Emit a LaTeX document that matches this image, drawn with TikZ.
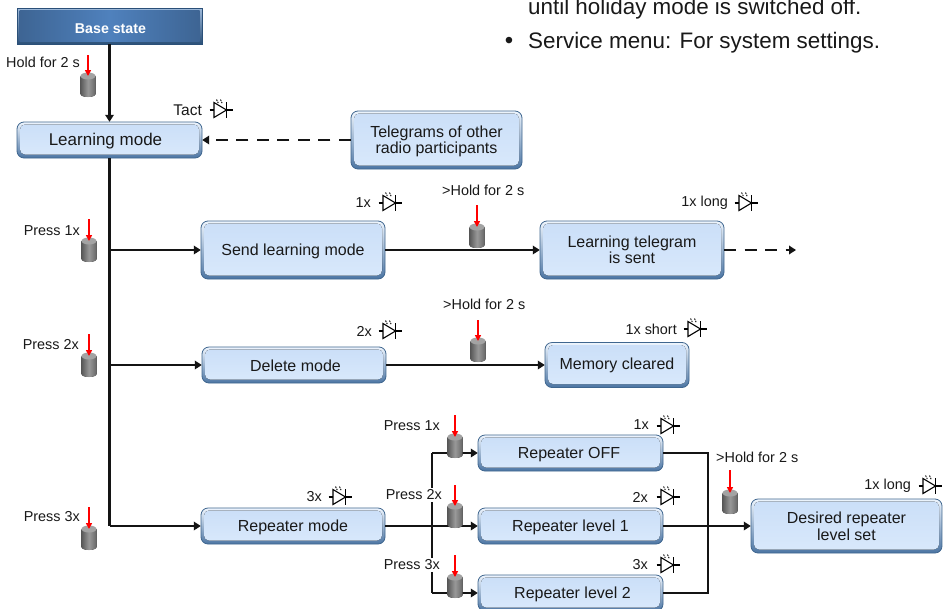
\documentclass[tikz,border=0pt]{standalone}
\usepackage{fontspec}
\setmainfont{Liberation Sans}
\usetikzlibrary{arrows.meta}
\definecolor{edge}{HTML}{3F668F}
\definecolor{bevelT}{HTML}{EEF5FD}
\definecolor{bevelB}{HTML}{4C75A3}
\definecolor{faceT}{HTML}{CBDFF8}
\definecolor{faceB}{HTML}{D8E8FB}
\definecolor{basemid}{HTML}{4F81BD}
\definecolor{baseedge}{HTML}{2B5078}
\tikzset{
  conn/.style={line width=2.4pt,draw=black!92,-{Triangle[length=7pt,width=8.5pt]}},
  plain/.style={line width=2.4pt,draw=black!92},
  dashconn/.style={conn,dash pattern=on 12pt off 8.5pt},
  lbl/.style={font=\fontsize{14.4}{15}\selectfont,inner sep=0pt,text=black!90},
  gaplbl/.style={lbl,fill=white,inner xsep=1pt,inner ysep=2pt},
  boxtxt/.style={font=\fontsize{16}{16.5}\selectfont,align=center,inner sep=0pt,text=black!90},
  redarrow/.style={draw=red,line width=1.6pt,-{Triangle[length=6pt,width=6pt]}},
  ledline/.style={draw=black,line width=1.1pt},
  page/.style={font=\fontsize{22.4}{24}\selectfont,inner sep=0pt,anchor=base west,text=black!90}
}
% soft bevelled box: [text raise], name, centre x, centre y, width, height, text
\newcommand{\softbox}[7][1.2]{%
  \draw[edge,line width=0.8pt,rounded corners=7pt,top color=bevelT,bottom color=bevelB]
    (#3-#5/2,#4-#6/2) rectangle (#3+#5/2,#4+#6/2);
  \fill[rounded corners=5pt,top color=faceT,bottom color=faceB]
    (#3-#5/2+3,#4-#6/2+2.5) rectangle (#3+#5/2-3,#4+#6/2-3.5);
  \node[minimum width=#5 pt,minimum height=#6 pt,inner sep=0pt] (#2) at (#3,#4) {};
  \node[boxtxt] (#2t) at (#3,#4+#1) {#7};
}
% push button: centre x, top of arrow y, top of cylinder y, bottom of cylinder y
\newcommand{\pushbtn}[4]{%
  \fill[left color=black!65,right color=black!60,middle color=black!40]
    (#1-7.5,#3+3) -- (#1-7.5,#4-3) arc[start angle=180,end angle=360,x radius=7.5pt,y radius=3pt]
    -- (#1+7.5,#3+3) -- cycle;
  \fill[black!36] (#1,#3+3) ellipse[x radius=7.5pt,y radius=3.5pt];
  \draw[redarrow] (#1,#2) -- (#1,#3+3);
}
% LED symbol centred on x,y
\newcommand{\ledsym}[2]{%
  \draw[ledline] (#1-11.5,#2) -- (#1+11.5,#2);
  \draw[ledline,fill=white] (#1-7,#2-7.5) -- (#1+5.5,#2) -- (#1-7,#2+7.5) -- cycle;
  \draw[ledline] (#1+5.5,#2-8) -- (#1+5.5,#2+8);
  \draw[ledline,line width=0.9pt,dash pattern=on 1.5pt off 1pt] (#1-4.5,#2-10.5) -- (#1-2.5,#2-6.5);
  \draw[ledline,line width=0.9pt,dash pattern=on 1.5pt off 1pt] (#1-0.5,#2-10.5) -- (#1+1.5,#2-6);
}
\begin{document}
\begin{tikzpicture}[x=1pt,y=-1pt]
\useasboundingbox (0,0) rectangle (947,608);
\fill[white] (0,0) rectangle (947,608);
\clip (0,0) rectangle (947,608);

% page text remains
\node[page] (t1) at (528,14) {until holiday mode is switched off.};
\node[font=\fontsize{24}{24}\selectfont,inner sep=0pt,anchor=base,text=black!90] (bul) at (509,48.5) {•};
\node[page] (t2) at (528,48) {Service menu: For system settings.};

% base state
\draw[baseedge,line width=0.8pt,top color=basemid!55!white,bottom color=baseedge] (17,8) rectangle (202,44);
\fill[left color=basemid!78!black,right color=basemid!78!black,middle color=basemid] (19.5,10.5) rectangle (199.5,41);
\node[minimum width=185pt,minimum height=36pt,inner sep=0pt] (base) at (109.5,26) {};
\node[font=\bfseries\fontsize{14.2}{15}\selectfont,text=white,inner sep=0pt] (baset) at (110.5,28.5) {Base state};

% boxes
\softbox{learn}{109.5}{140}{185}{36}{\fontsize{17}{18}\selectfont\hspace*{-8pt}Learning mode}
\softbox{tele}{436.5}{140}{171}{58}{Telegrams of other\\radio participants}
\softbox{send}{293}{250}{184}{58}{Send learning mode}
\softbox[0]{sent}{632}{250}{184}{58}{Learning telegram\\is sent}
\softbox{del}{294}{365}{184}{36}{\hspace*{3pt}Delete mode}
\softbox[0.5]{mem}{617}{365}{144}{45}{Memory cleared}
\softbox{rep}{293}{526}{184}{36}{Repeater mode}
\softbox{off}{570.5}{453}{185}{36}{\hspace*{-3pt}Repeater OFF}
\softbox{lone}{570.5}{526}{185}{36}{Repeater level 1}
\softbox[1.8]{ltwo}{570.5}{593}{185}{36}{\hspace*{4pt}Repeater level 2}
\softbox[0.2]{des}{846.5}{526}{191}{54}{Desired repeater\\level set}

% junctions
\coordinate (j1) at (109.5,250);
\coordinate (j2) at (109.5,365);
\coordinate (j3) at (109.5,526);
\coordinate (v0) at (432,453);
\coordinate (v1) at (432,526);
\coordinate (v2) at (432,593);
\coordinate (r0) at (708,453);
\coordinate (r1) at (708,526);
\coordinate (r2) at (708,593);
\coordinate (free) at (796,250);

% connectors
\draw[conn] (base) -- (learn);
\draw[dashconn] (tele) -- (learn);
\draw[plain] (learn) -- (j3);
\draw[conn] (j1) -- (send);
\draw[conn] (j2) -- (del);
\draw[conn] (j3) -- (rep);
\draw[conn] (send) -- (sent);
\draw[dashconn] (sent) -- (free);
\draw[conn] (del) -- (mem);
\draw[conn] (rep) -- (lone);
\draw[plain] (v2) -- (v0);
\draw[conn] (v0) -- (off);
\draw[conn] (v2) -- (ltwo);
\draw[plain] (off) -- (r0) -- (r2) -- (ltwo);
\draw[conn] (lone) -- (des);

% labels
\node[lbl,anchor=east] (a1) at (80,62) {Hold for 2 s};
\node[lbl,anchor=east] (a2) at (80,231) {Press 1x};
\node[lbl,anchor=east] (a3) at (79,345) {Press 2x};
\node[lbl,anchor=east] (a4) at (80,517) {Press 3x};
\node[lbl,anchor=east,font=\fontsize{15.5}{16}\selectfont] (a5) at (202,110) {Tact};
\node[lbl,anchor=east] (a6) at (371,203) {1x};
\node[lbl,anchor=west] (a7) at (442,190) {>Hold for 2 s};
\node[lbl,anchor=east] (a8) at (728,203) {1x long};
\node[lbl,anchor=east] (a9) at (372,331) {2x};
\node[lbl,anchor=west] (a10) at (443,304) {>Hold for 2 s};
\node[lbl,anchor=east] (a11) at (677,329) {1x short};
\node[gaplbl,anchor=east] (a12) at (441,426) {Press 1x};
\node[gaplbl,anchor=east] (a13) at (443,495) {Press 2x};
\node[gaplbl,anchor=east] (a14) at (441,565) {Press 3x};
\node[lbl,anchor=east] (a15) at (649,425) {1x};
\node[lbl,anchor=east] (a16) at (648,497) {2x};
\node[lbl,anchor=east] (a17) at (648,565) {3x};
\node[lbl,anchor=east] (a18) at (322,497) {3x};
\node[lbl,anchor=west] (a19) at (716,457) {>Hold for 2 s};
\node[lbl,anchor=east] (a20) at (911,486) {1x long};

% LEDs
\ledsym{221}{110}
\ledsym{390}{203}
\ledsym{746}{203}
\ledsym{390}{331}
\ledsym{695}{329}
\ledsym{668}{426}
\ledsym{668}{497}
\ledsym{668}{565}
\ledsym{340}{497}
\ledsym{930}{486}

% buttons
\pushbtn{88}{55}{73}{97}
\pushbtn{89}{219}{238}{262}
\pushbtn{89}{334}{353}{377}
\pushbtn{89}{507}{526}{550}
\pushbtn{477}{205}{224}{248}
\pushbtn{478}{320}{338}{362}
\pushbtn{455}{415}{434}{458}
\pushbtn{455}{485}{503}{528}
\pushbtn{455}{555}{574}{598}
\pushbtn{730}{470}{490}{514}
\end{tikzpicture}
\end{document}
